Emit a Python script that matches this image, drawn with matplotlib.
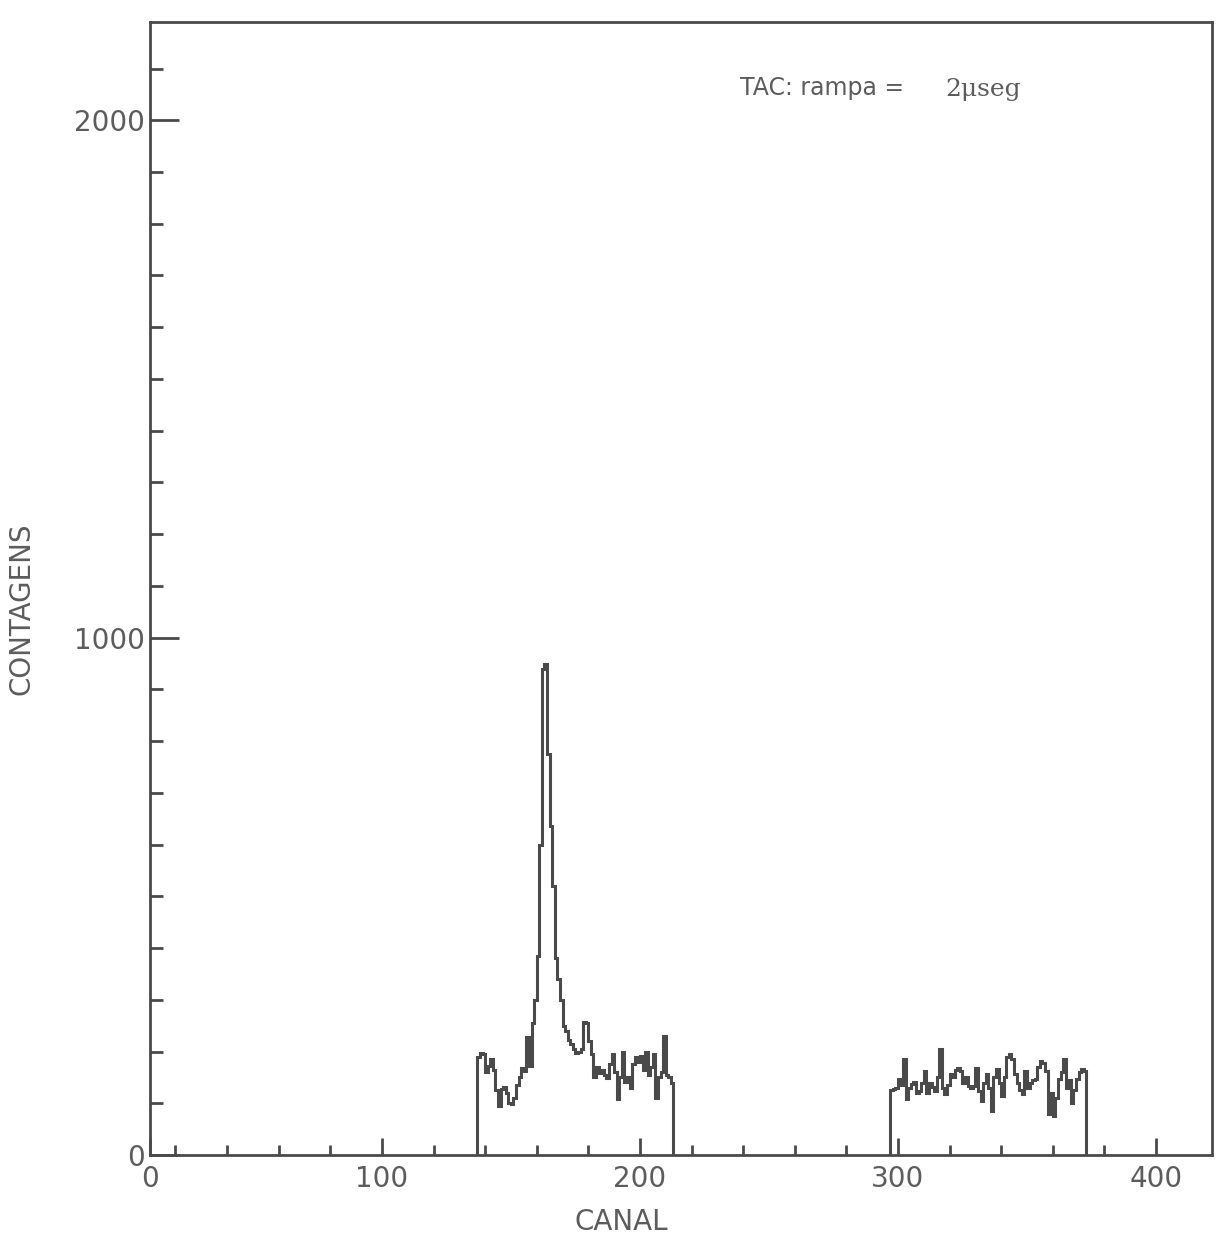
import numpy as np
import matplotlib
matplotlib.use("Agg")
import matplotlib.pyplot as plt
from matplotlib.ticker import MultipleLocator, FixedLocator

# counts per channel, two windows of the TAC spectrum
canal_a_start = 137
contagens_a = [190, 198, 195, 160, 172, 185, 165, 125, 95, 128,
               132, 120, 100, 98, 110, 135, 150, 168, 162, 228,
               172, 255, 300, 385, 600, 940, 950, 775, 635, 520,
               380, 340, 300, 250, 240, 222, 215, 205, 198, 200,
               205, 258, 255, 220, 195, 150, 170, 158, 165, 155,
               148, 175, 196, 160, 108, 150, 200, 142, 150, 130,
               175, 190, 180, 192, 165, 200, 155, 170, 195, 110,
               150, 160, 230, 155, 150, 140]

canal_b_start = 297
contagens_b = [125, 128, 130, 147, 135, 186, 108, 130, 138, 142,
               120, 124, 140, 163, 120, 140, 132, 124, 150, 205,
               130, 118, 135, 157, 150, 165, 168, 163, 140, 150,
               134, 130, 134, 168, 124, 105, 140, 157, 130, 85,
               150, 167, 140, 114, 150, 190, 196, 185, 157, 140,
               125, 118, 163, 130, 140, 145, 147, 170, 182, 178,
               163, 80, 120, 76, 110, 147, 160, 186, 130, 145,
               100, 125, 147, 160, 167, 162]

xticks_major = [100, 200, 300, 400]
xtick_labels = ["100", "200", "300", "400"]
yticks_major = [0, 1000, 2000]
ytick_labels = ["0", "1000", "2000"]

ink = "#4a4a4a"
txt = "#5c5c5c"

fig = plt.figure(figsize=(12.22, 12.48), dpi=100)
ax = fig.add_axes([0.1227, 0.0745, 0.8691, 0.9079])

for start, vals in ((canal_a_start, contagens_a), (canal_b_start, contagens_b)):
    edges = np.arange(start, start + len(vals) + 1)
    ax.stairs(vals, edges, baseline=0, color=ink, linewidth=2.2)

xmin, xmax = 10.1, 421.7
ax.set_xlim(xmin, xmax)
ax.set_ylim(0, 2190)

for s in ax.spines.values():
    s.set_color(ink)
    s.set_linewidth(2.0)

ax.set_xticks([xmin] + xticks_major, ["0"] + xtick_labels)
ax.xaxis.set_minor_locator(FixedLocator([v for v in range(20, 420, 20) if v % 100]))
ax.set_yticks(yticks_major, ytick_labels)
ax.yaxis.set_minor_locator(MultipleLocator(100))

ax.tick_params(axis="x", which="major", direction="in", length=12, width=2,
               color=ink, labelsize=20, labelcolor=txt, pad=7)
ax.tick_params(axis="x", which="minor", direction="in", length=7, width=2, color=ink)
ax.tick_params(axis="y", which="major", direction="in", length=21, width=2,
               color=ink, labelsize=20, labelcolor=txt, pad=4)
ax.tick_params(axis="y", which="minor", direction="in", length=9, width=2, color=ink)

ax.set_xlabel("CANAL", fontsize=20, color=txt)
ax.xaxis.set_label_coords(0.444, -0.047)
ax.set_ylabel("CONTAGENS", fontsize=20, color=txt)
ax.yaxis.set_label_coords(-0.108, 0.482)

ax.text(0.5556, 0.9417, "TAC: rampa =", transform=ax.transAxes,
        fontsize=17, color=txt, va="center", ha="left")
ax.text(0.7486, 0.9400, "2μseg", transform=ax.transAxes, family="DejaVu Serif",
        fontsize=18, color=txt, va="center", ha="left")

fig.savefig("out.png", dpi=100, facecolor="white")
